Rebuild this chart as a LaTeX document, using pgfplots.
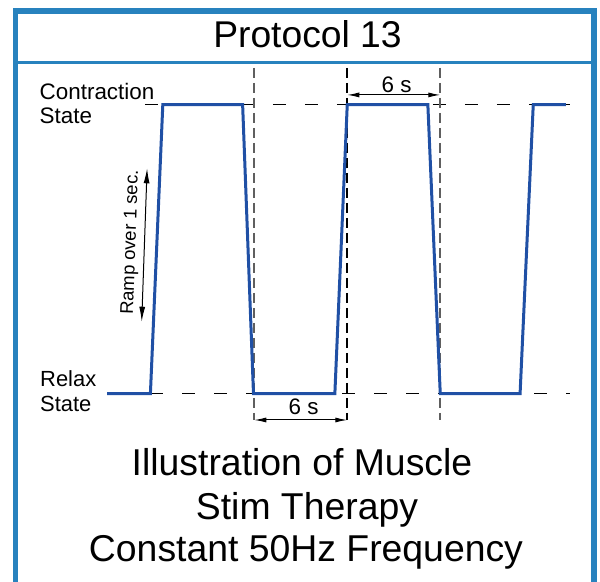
\documentclass[border=0pt]{standalone}
\usepackage{pgfplots}
\pgfplotsset{compat=1.18}
\usepackage{fontspec}
\setmainfont{Liberation Sans}
\usetikzlibrary{arrows.meta}
\definecolor{frameblue}{RGB}{40,130,190}
\definecolor{waveblue}{RGB}{32,80,165}
\definecolor{dashgray}{RGB}{95,95,95}
\begin{document}
\begin{tikzpicture}
\path[use as bounding box] (0,0) rectangle (600bp,582bp);
\begin{axis}[at={(0,0)}, anchor=south west, scale only axis,
  width=600bp, height=582bp, hide axis, clip=false,
  xmin=-6.9032, xmax=31.8065, ymin=-0.65156, ymax=1.36228]
% reference levels
\addplot[black, line width=1.3bp, dash pattern=on 13bp off 19bp] coordinates {(2.45,1) (29.87,1)};
\addplot[black, line width=1.3bp, dash pattern=on 13bp off 19bp] coordinates {(2.8,0) (29.87,0)};
\addplot[dashgray, line width=1.7bp, dash pattern=on 10bp off 5bp] coordinates {(9.5,1.127) (9.5,-0.091)};
\addplot[black, line width=1.6bp, dash pattern=on 10bp off 5bp] coordinates {(15.5,1.127) (15.5,-0.091)};
\addplot[dashgray, line width=1.7bp, dash pattern=on 10bp off 5bp] coordinates {(21.5,1.127) (21.5,-0.091)};
% stimulation waveform (time in s, 0 = relax, 1 = contraction)
\addplot[waveblue, line width=3bp] coordinates {
  (0,0) (2.8,0) (3.6,1) (8.75,1) (9.45,0) (14.7,0) (15.5,1) (20.7,1)
  (21.5,0) (26.65,0) (27.5,1) (29.6,1)};
% dimension arrows
\draw[{Latex[length=12bp,width=5bp]}-{Latex[length=12bp,width=5bp]}, line width=1bp]
  (axis cs:15.5,1.0338) -- (axis cs:21.5,1.0338);
\draw[{Latex[length=12bp,width=5bp]}-{Latex[length=12bp,width=5bp]}, line width=1bp]
  (axis cs:9.5,-0.0910) -- (axis cs:15.5,-0.0910);
\draw[{Latex[length=15bp,width=6bp]}-{Latex[length=15bp,width=6bp]}, line width=1bp]
  (axis cs:2.5871,0.7799) -- (axis cs:2.2387,0.2491);
\node[anchor=base, font=\fontsize{22.5pt}{26pt}\selectfont] at (axis cs:18.68,1.0439) {6 s};
\node[anchor=base, font=\fontsize{22.5pt}{26pt}\selectfont] at (axis cs:12.68,-0.0737) {6 s};
\node[rotate=88, font=\fontsize{18.5pt}{22pt}\selectfont] at (axis cs:1.55,0.5232) {Ramp over 1 sec.};
\end{axis}
\begin{scope}[x=1bp, y=-1bp, yshift=582bp]
\draw[frameblue, line width=5.5bp] (15.5,585) -- (15.5,11) -- (594,11) -- (594,585);
\draw[frameblue, line width=3bp] (15.5,63) -- (594,63);
\node[anchor=base, font=\fontsize{37.4pt}{44pt}\selectfont] at (307.5,48) {Protocol 13};
\node[anchor=base west, inner sep=0pt, font=\fontsize{22.5pt}{26pt}\selectfont] at (39.5,100) {Contraction};
\node[anchor=base west, inner sep=0pt, font=\fontsize{22.5pt}{26pt}\selectfont] at (39.5,124) {State};
\node[anchor=base west, inner sep=0pt, font=\fontsize{22pt}{26pt}\selectfont] at (40,387) {Relax};
\node[anchor=base west, inner sep=0pt, font=\fontsize{22pt}{26pt}\selectfont] at (40,412) {State};
\node[anchor=base, font=\fontsize{37.5pt}{44pt}\selectfont] at (302,476) {Illustration of Muscle};
\node[anchor=base, font=\fontsize{37.5pt}{44pt}\selectfont] at (307,520) {Stim Therapy};
\node[anchor=base, font=\fontsize{37.5pt}{44pt}\selectfont] at (306,562) {Constant 50Hz Frequency};
\end{scope}
\end{tikzpicture}
\end{document}
